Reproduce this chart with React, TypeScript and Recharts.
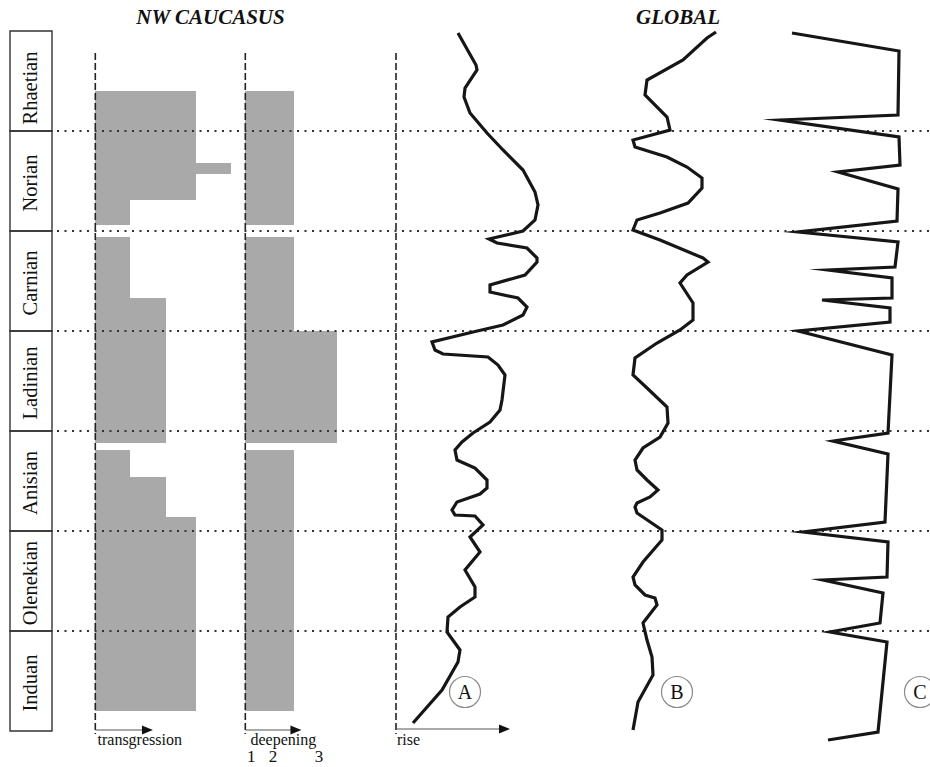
import React from 'react';
import {
  ScatterChart,
  Scatter,
  XAxis,
  YAxis,
  ReferenceArea,
  ReferenceLine,
  ReferenceDot,
} from 'recharts';

// stages, bottom to top, one unit each
const stages = ['Induan', 'Olenekian', 'Anisian', 'Ladinian', 'Carnian', 'Norian', 'Rhaetian'];
const boundaries = [1, 2, 3, 4, 5, 6];

// NW Caucasus: [from, to, level] (vertical in stage units)
const transgression = [
  [0.2, 2.14, 3],
  [2.14, 2.54, 2.1],
  [2.54, 2.81, 1.05],
  [2.88, 4.33, 2.1],
  [4.33, 4.94, 1.05],
  [5.06, 5.31, 1.05],
  [5.31, 5.57, 3],
  [5.57, 5.68, 4.05],
  [5.68, 6.4, 3],
];
const deepening = [
  [0.2, 2.81, 1.05],
  [2.88, 4.0, 2.0],
  [4.0, 4.94, 1.05],
  [5.06, 6.4, 1.05],
];

// global sea-level curves: [rise, stage position]
const curveA = [
  [6.2, 6.98], [8.0, 6.66], [8.1, 6.61], [6.9, 6.43], [6.8, 6.34], [7.4, 6.18],
  [9.1, 5.98], [10.7, 5.81], [12.7, 5.61], [13.9, 5.39], [14.2, 5.26], [13.9, 5.11],
  [12.7, 5.0], [9.3, 4.92], [10.1, 4.88], [13.1, 4.83], [14.1, 4.73], [14.1, 4.69],
  [12.9, 4.56], [9.4, 4.46], [9.4, 4.39], [12.2, 4.33], [13.1, 4.24], [12.7, 4.16],
  [10.7, 4.06], [7.7, 3.99], [3.6, 3.89], [3.9, 3.81], [4.7, 3.77], [9.2, 3.74],
  [10.2, 3.66], [10.9, 3.56], [10.6, 3.31], [10.4, 3.21], [9.4, 3.09], [7.7, 2.98],
  [6.6, 2.89], [5.9, 2.81], [6.1, 2.71], [7.9, 2.63], [9.1, 2.51], [9.1, 2.43],
  [8.4, 2.37], [6.1, 2.29], [5.6, 2.21], [5.9, 2.16], [7.9, 2.15], [8.7, 2.06],
  [7.4, 1.94], [8.4, 1.79], [6.9, 1.61], [7.9, 1.44], [7.9, 1.34], [6.4, 1.24],
  [5.2, 1.14], [5.1, 0.99], [6.4, 0.81], [6.2, 0.69], [4.6, 0.41], [1.7, 0.08],
];
const curveB = [
  [10.6, 6.99], [9.7, 6.93], [7.3, 6.71], [3.7, 6.51], [3.5, 6.36], [5.7, 6.14],
  [6.0, 6.01], [2.3, 5.91], [2.5, 5.84], [5.7, 5.74], [7.7, 5.64], [9.2, 5.53],
  [9.2, 5.43], [7.8, 5.28], [5.0, 5.18], [2.7, 5.11], [2.3, 5.01], [5.0, 4.91],
  [9.3, 4.73], [9.8, 4.69], [7.7, 4.56], [7.0, 4.48], [8.3, 4.28], [8.3, 4.11],
  [7.0, 4.01], [4.7, 3.88], [2.5, 3.73], [2.3, 3.56], [3.7, 3.43], [5.7, 3.24],
  [5.8, 3.08], [5.0, 2.94], [3.3, 2.83], [2.5, 2.71], [2.7, 2.61], [3.7, 2.51],
  [4.8, 2.41], [4.0, 2.34], [2.7, 2.28], [2.5, 2.24], [2.7, 2.18], [5.2, 2.01],
  [5.2, 1.91], [3.3, 1.69], [2.3, 1.54], [2.5, 1.46], [3.5, 1.36], [4.5, 1.33],
  [4.7, 1.26], [3.3, 1.08], [3.7, 0.91], [4.2, 0.74], [4.3, 0.56], [2.8, 0.29],
  [2.3, 0.01],
];
const curveC = [
  [2.2, 6.98], [12.9, 6.8], [12.8, 6.16], [1.0, 6.11], [12.9, 5.94], [13.0, 5.66],
  [6.8, 5.59], [12.8, 5.42], [12.7, 5.1], [2.8, 4.99], [12.8, 4.89], [12.5, 4.64],
  [5.8, 4.61], [12.2, 4.53], [12.2, 4.33], [5.2, 4.31], [12.0, 4.23], [12.0, 4.09],
  [2.8, 4.0], [12.2, 3.76], [11.8, 2.98], [6.3, 2.9], [11.8, 2.77], [11.5, 2.09],
  [3.3, 1.99], [11.8, 1.89], [11.7, 1.54], [5.3, 1.51], [11.3, 1.38], [11.0, 1.08],
  [6.0, 0.99], [11.7, 0.89], [10.8, -0.01], [5.8, -0.09],
];
const curveLabels = [
  { id: 'A', x: 6.9, y: 0.39 },
  { id: 'B', x: 6.7, y: 0.39 },
  { id: 'C', x: 15.0, y: 0.39 },
];

// layout
const W = 930;
const H = 767;
const BASE_PX = 731;
const STAGE_PX = 100;
const tracks: Record<string, [number, number]> = {
  stage: [10, 42],
  trans: [95.3, 33.5],
  deep: [245.3, 46],
  A: [396, 10],
  B: [610, 10],
  C: [770, 10],
};
const dom = (id: string) => {
  const [o, u] = tracks[id];
  return [-o / u, (W - o) / u];
};
const toXY = (arr: number[][]) => arr.map(([x, y]) => ({ x, y }));
const SERIF = '"Liberation Serif", "Times New Roman", serif';

const StageName = (props: any) => {
  const { viewBox, value } = props;
  const cx = viewBox.x + viewBox.width / 2 - 1;
  const cy = viewBox.y + viewBox.height / 2 + (value === 'Rhaetian' ? 7 : 2);
  return (
    <text
      x={cx}
      y={cy}
      transform={`rotate(-90 ${cx} ${cy})`}
      textAnchor="middle"
      dominantBaseline="central"
      fontFamily={SERIF}
      fontSize={20.5}
      fill="#111"
    >
      {value}
    </text>
  );
};

const Arrow = (props: any) => {
  const { x1, y1, x2, y2 } = props;
  return (
    <g>
      <line x1={x1} y1={y1} x2={x2 - 8} y2={y2} stroke="#555" strokeWidth={1} />
      <polygon points={`${x2},${y2} ${x2 - 11},${y2 - 4.5} ${x2 - 11},${y2 + 4.5}`} fill="#111" />
    </g>
  );
};

const Txt = ({ children, x, base, size, center, style }: any) => (
  <div
    style={{
      position: 'absolute',
      left: x,
      top: base - size * 0.8375,
      fontSize: size,
      lineHeight: 1,
      fontFamily: SERIF,
      color: '#111',
      whiteSpace: 'nowrap',
      transform: center ? 'translateX(-50%)' : undefined,
      ...style,
    }}
  >
    {children}
  </div>
);

const noDot = () => <g />;

export default function App() {
  const yDomain = [(BASE_PX - H) / STAGE_PX, BASE_PX / STAGE_PX];
  const gridStart = (57 - tracks.stage[0]) / tracks.stage[1];
  const gridEnd = dom('stage')[1];
  const curveLine = { stroke: '#161616', strokeWidth: 3.2, strokeLinejoin: 'miter', strokeMiterlimit: 12 };

  return (
    <div style={{ position: 'absolute', left: 0, top: 0, width: W, height: H, background: '#fff', overflow: 'hidden' }}>
      <ScatterChart width={W} height={H} margin={{ top: 0, right: 0, bottom: 0, left: 0 }}>
        {Object.keys(tracks).map((id) => (
          <XAxis
            key={id}
            xAxisId={id}
            type="number"
            dataKey="x"
            domain={dom(id)}
            allowDataOverflow
            hide
          />
        ))}
        <YAxis type="number" dataKey="y" domain={yDomain} allowDataOverflow hide />

        {transgression.map(([a, b, lv], i) => (
          <ReferenceArea
            key={`t${i}`}
            xAxisId="trans"
            x1={0}
            x2={lv}
            y1={a}
            y2={b}
            fill="#a9a9a9"
            fillOpacity={1}
            stroke="none"
            shapeRendering="crispEdges"
            ifOverflow="visible"
          />
        ))}
        {deepening.map(([a, b, lv], i) => (
          <ReferenceArea
            key={`d${i}`}
            xAxisId="deep"
            x1={0}
            x2={lv}
            y1={a}
            y2={b}
            fill="#a9a9a9"
            fillOpacity={1}
            stroke="none"
            shapeRendering="crispEdges"
            ifOverflow="visible"
          />
        ))}
        {stages.map((s, i) => (
          <ReferenceArea
            key={s}
            xAxisId="stage"
            x1={0}
            x2={1}
            y1={i}
            y2={i + 1}
            fill="none"
            stroke="#333"
            strokeWidth={1.4}
            ifOverflow="visible"
            label={{ value: s, content: StageName }}
          />
        ))}

        {boundaries.map((b) => (
          <ReferenceLine
            key={`b${b}`}
            xAxisId="stage"
            segment={[
              { x: gridStart, y: b },
              { x: gridEnd, y: b },
            ]}
            stroke="#333"
            strokeWidth={2}
            strokeDasharray="2 5.5"
            ifOverflow="visible"
          />
        ))}
        {['trans', 'deep', 'A'].map((id) => (
          <ReferenceLine
            key={`v${id}`}
            xAxisId={id}
            segment={[
              { x: 0, y: 6.78 },
              { x: 0, y: -0.03 },
            ]}
            stroke="#222"
            strokeWidth={1.6}
            strokeDasharray="7 3"
            ifOverflow="visible"
          />
        ))}
        <ReferenceLine xAxisId="trans" segment={[{ x: 0, y: 0.01 }, { x: 1.72, y: 0.01 }]} shape={Arrow} ifOverflow="visible" />
        <ReferenceLine xAxisId="deep" segment={[{ x: 0, y: 0.01 }, { x: 1.22, y: 0.01 }]} shape={Arrow} ifOverflow="visible" />
        <ReferenceLine xAxisId="A" segment={[{ x: 0, y: 0.02 }, { x: 11.4, y: 0.02 }]} shape={Arrow} ifOverflow="visible" />

        <Scatter xAxisId="A" data={toXY(curveA)} line={curveLine} shape={noDot} isAnimationActive={false} />
        <Scatter xAxisId="B" data={toXY(curveB)} line={curveLine} shape={noDot} isAnimationActive={false} />
        <Scatter xAxisId="C" data={toXY(curveC)} line={curveLine} shape={noDot} isAnimationActive={false} />

        {curveLabels.map((c) => (
          <ReferenceDot
            key={c.id}
            xAxisId={c.id}
            x={c.x}
            y={c.y}
            r={15.5}
            fill="none"
            stroke="#8a8a8a"
            strokeWidth={1.2}
            ifOverflow="visible"
            label={{ value: c.id, position: 'center', fill: '#111', fontSize: 20, fontFamily: SERIF }}
          />
        ))}
      </ScatterChart>

      <Txt x={210.5} base={25} size={21} center style={{ fontWeight: 'bold', fontStyle: 'italic' }}>
        NW CAUCASUS
      </Txt>
      <Txt x={678} base={25} size={21} center style={{ fontWeight: 'bold', fontStyle: 'italic' }}>
        GLOBAL
      </Txt>
      <Txt x={97.5} base={745} size={16}>transgression</Txt>
      <Txt x={250.5} base={745} size={16}>deepening</Txt>
      <Txt x={397} base={745} size={16}>rise</Txt>
      <Txt x={247} base={762} size={17}>1</Txt>
      <Txt x={273} base={762} size={17} center>2</Txt>
      <Txt x={319} base={762} size={17} center>3</Txt>
    </div>
  );
}
